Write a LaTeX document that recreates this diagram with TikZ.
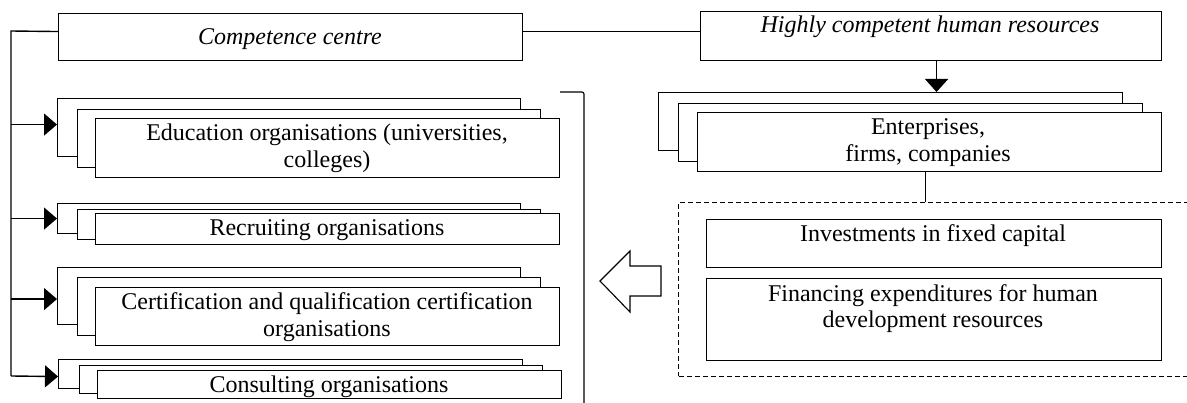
\documentclass[tikz,border=0pt]{standalone}
\usepackage{fontspec}
\setmainfont{Liberation Serif}
\usetikzlibrary{arrows.meta}
\begin{document}
\begin{tikzpicture}[x=1pt,y=-1pt,
  boxst/.style={draw,fill=white,line width=1.1pt,inner sep=0pt,anchor=north west},
  txt/.style={anchor=base,inner sep=0pt,font=\fontsize{24}{27}\selectfont},
  itxt/.style={anchor=base,inner sep=0pt,font=\fontsize{24}{27}\selectfont\itshape},
  conn/.style={line width=1.4pt},
  arr/.style={conn,-{Triangle[length=13pt,width=22pt]}},
  thin/.style={line width=1.1pt},
  dashbox/.style={draw,dash pattern=on 5pt off 3pt,line width=1pt,inner sep=0pt,anchor=north west}]
\newcommand\mybox[5]{\node[boxst,minimum width={(#4-#2)*1pt},minimum height={(#5-#3)*1pt}] (#1) at (#2,#3) {};}
\useasboundingbox (0,0) rectangle (1187,403);
\clip (0,0) rectangle (1187,403);

% top boxes
\mybox{cc}{58}{13}{522}{60}
\node[itxt] (tcc) at (290,45) {Competence centre};
\mybox{hh}{700}{11}{1161}{60}
\node[itxt] (thh) at (930,33) {Highly competent human resources};

% enterprises stack
\mybox{entA}{658}{92}{1122}{150}
\mybox{entB}{678}{103}{1142}{161}
\mybox{entC}{697}{112}{1161}{171}
\node[txt] (tentA) at (928,135) {Enterprises,};
\node[txt] (tentB) at (928,162) {firms, companies};

% dashed group
\node[dashbox,minimum width=540pt,minimum height=174pt] (dash) at (678,202) {};
\mybox{inv}{706}{219}{1161}{267}
\node[txt] (tinv) at (933,242) {Investments in fixed capital};
\mybox{fin}{706}{278}{1161}{360}
\node[txt] (tfinA) at (933,302) {Financing expenditures for human};
\node[txt] (tfinB) at (933,328) {development resources};

% left stacks
\mybox{eduA}{57}{98}{520}{156}
\mybox{eduB}{77}{109}{540}{167}
\mybox{eduC}{95}{118}{559}{177}
\node[txt] (teduA) at (327,141) {Education organisations (universities,};
\node[txt] (teduB) at (327,168) {colleges)};

\mybox{recA}{57}{203}{520}{233}
\mybox{recB}{77}{209}{540}{239}
\mybox{recC}{95}{213}{559}{244}
\node[txt] (trec) at (327,236) {Recruiting organisations};

\mybox{cerA}{57}{267}{520}{324}
\mybox{cerB}{77}{277}{540}{335}
\mybox{cerC}{95}{287}{559}{345}
\node[txt] (tcerA) at (327,310) {Certification and qualification certification};
\node[txt] (tcerB) at (327,337) {organisations};

\mybox{conA}{58}{359}{522}{388}
\mybox{conB}{79}{365}{542}{393}
\mybox{conC}{97}{370}{561}{398}
\node[txt] (tcon) at (329,393) {Consulting organisations};

% connectors
\coordinate (bus) at (11,31);
\coordinate (busend) at (11,376);
\draw[conn] ([yshift=5.5pt]cc.west) -- (bus) -- (busend);
\draw[arr] ([yshift=3pt]eduA.west -| bus) -- ([yshift=3pt]eduA.west);
\draw[arr] (recA.west -| bus) -- (recA.west);
\draw[arr] ([yshift=-3pt]cerA.west -| bus) -- ([yshift=-3pt]cerA.west);
\draw[arr] (busend) -- ([yshift=-2.5pt]conA.west);
\draw[conn] ([yshift=5.5pt]cc.east) -- ([yshift=5.5pt]cc.east -| hh.west);
\draw[conn,-{Triangle[length=13pt,width=23pt]}] ([xshift=5.5pt]hh.south) -- ([xshift=5.5pt]hh.south |- entA.north);
\draw[conn] ([xshift=-4pt]entC.south) -- ([xshift=-4pt]entC.south |- dash.north);

% bracket
\draw[thin,rounded corners=2pt] (560,92) -- (584,92) -- (584,410);

% hollow arrow
\draw[thin,fill=white] (600,281) -- (630,251) -- (630,266) -- (661,266) -- (661,296) -- (630,296) -- (630,312) -- cycle;
\end{tikzpicture}
\end{document}
